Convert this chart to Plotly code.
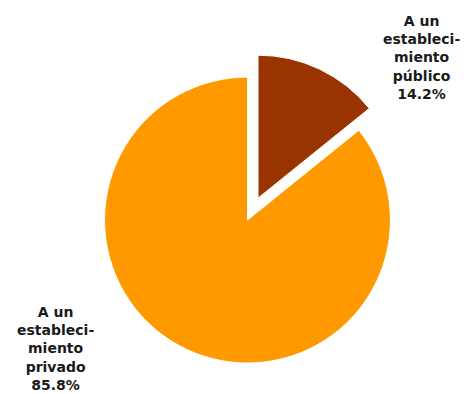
import plotly.graph_objects as go

labels = ["A un<br>estableci-<br>miento<br>público", "A un<br>estableci-<br>miento<br>privado"]
values = [14.2, 85.8]
colors = ["#993300", "#FF9900"]
pulls = [0.17, 0.0]
label_pos = [(421, 57), (55, 348)]  # pixel centers of outside labels

W, H = 468, 394

fig = go.Figure(go.Pie(
    labels=labels,
    values=values,
    sort=False,
    direction="clockwise",
    rotation=0,
    pull=pulls,
    textinfo="none",
    hoverinfo="label+percent",
    marker=dict(colors=colors, line=dict(color="white", width=1)),
    domain=dict(x=[0.1714, 0.8863], y=[0.017, 0.866]),
    showlegend=False,
))

for lab, val, (px, py) in zip(labels, values, label_pos):
    fig.add_annotation(
        x=px / W, y=1 - py / H, xref="paper", yref="paper",
        text=f"{lab}<br>{val:.1f}%",
        showarrow=False, align="center",
        xanchor="center", yanchor="middle",
        font=dict(family="DejaVu Sans", size=14, color="#1a1a1a", weight="bold"),
    )

fig.update_layout(
    width=W, height=H,
    margin=dict(l=0, r=0, t=0, b=0),
    paper_bgcolor="white", plot_bgcolor="white",
)

fig.write_html("out.html")
